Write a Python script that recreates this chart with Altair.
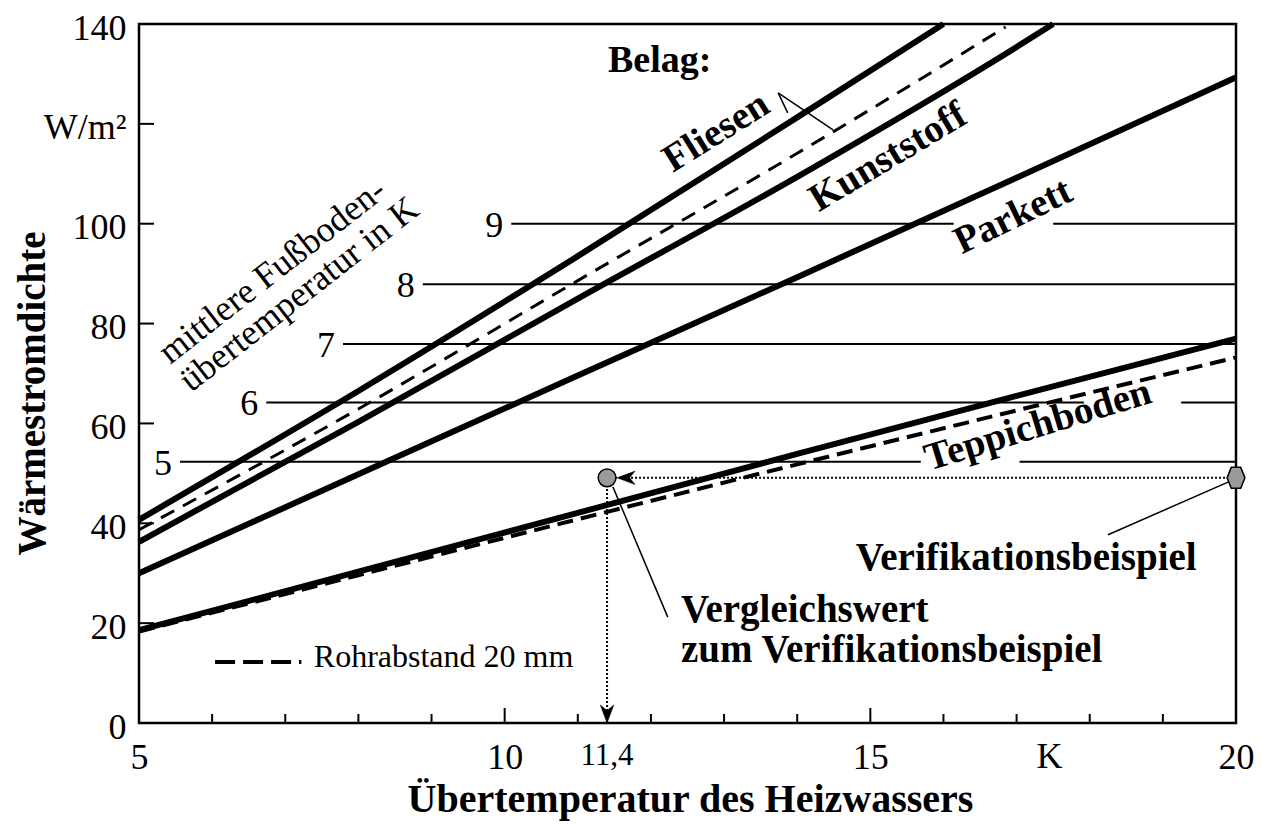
import altair as alt
import pandas as pd

# ---------------- data ----------------
# heat-flux curves (x = heating water over-temperature K, y = W/m²)
fliesen_x = [5, 8, 11, 14, 16]
fliesen_y = [40.7, 66.5, 93.5, 121.3, 140]
fliesen20_x = [5, 8, 11, 14, 16.85]
fliesen20_y = [38.7, 62.9, 88.6, 114.1, 139.4]
kunst_x = [5, 8, 11, 14, 17, 17.5]
kunst_y = [36.3, 60.3, 85.0, 109.4, 135.4, 140]
parkett_x = [5, 8, 11, 14, 17, 20]
parkett_y = [30.0, 49.8, 69.6, 89.3, 109.2, 129.3]
teppich_x = [5, 8, 11, 14, 17, 20]
teppich_y = [18.6, 30.3, 42.1, 53.9, 65.5, 77.0]
teppich20_x = [5, 8, 11, 14, 17, 20]
teppich20_y = [18.3, 29.6, 40.8, 51.8, 62.6, 73.2]

# mean floor over-temperature lines
floor_lbl = ["5", "6", "7", "8", "9"]
floor_q = [52.3, 64.2, 75.9, 87.9, 100.0]
floor_start = [5.56, 6.74, 7.79, 8.88, 10.09]
seg_q = [52.3, 52.3, 64.2, 64.2, 75.9, 87.9, 100.0, 100.0]
seg_x1 = [5.56, 17.04, 6.74, 19.25, 7.79, 8.88, 10.09, 17.5]
seg_x2 = [15.69, 20, 17.92, 20, 20, 20, 16.14, 20]

# verification example
verif_x = [11.4, 20]
verif_q = [49.1, 49.1]

# axis ticks / labels
y_ticks = [0, 20, 40, 60, 80, 100, 120, 140]
x_labels = [5, 10, 15, 20]
x_minor = [6, 7, 8, 9, 11, 12, 13, 14, 16, 17, 18, 19]
x_major = [10, 15]

# annotation texts
belag_lbl = ["Fliesen", "Kunststoff", "Parkett", "Teppichboden"]
belag_x = [12.89, 15.24, 16.95, 17.29]
belag_y = [118.4, 113.4, 101.5, 59.7]
belag_angle = [328, 329, 334, 343]

W, H = 1097, 699
FONT = "Liberation Serif"

rows = []
for name, style, xs, ys in [
    ("Fliesen", "solid", fliesen_x, fliesen_y),
    ("Kunststoff", "solid", kunst_x, kunst_y),
    ("Parkett", "solid", parkett_x, parkett_y),
    ("Teppichboden", "solid", teppich_x, teppich_y),
    ("Fliesen20", "dash_thin", fliesen20_x, fliesen20_y),
    ("Teppich20", "dash_thick", teppich20_x, teppich20_y),
]:
    for i, (x, y) in enumerate(zip(xs, ys)):
        rows.append(dict(curve=name, style=style, x=x, y=y, order=i))
df_curves = pd.DataFrame(rows)

xscale = alt.Scale(domain=[5, 20], nice=False, zero=False)
yscale = alt.Scale(domain=[0, 140], nice=False, zero=True)

X_AX = alt.Axis(
    values=x_labels, ticks=False, domain=False, grid=False,
    labelFont=FONT, labelFontSize=36, labelColor="black", labelPadding=17,
    title="Übertemperatur des Heizwassers", titleFont=FONT, titleFontSize=40,
    titleFontWeight="bold", titleColor="black", titleX=551, titleY=88,
    titleAnchor="start", titleAlign="center", titleBaseline="alphabetic",
    labelFlush=False,
)
Y_AX = alt.Axis(
    values=y_ticks, ticks=False, domain=False, grid=False,
    labelFont=FONT, labelFontSize=36, labelColor="black", labelPadding=13,
    labelOffset=4,
    labelExpr="datum.value == 120 ? 'W/m²' : datum.label",
    title="Wärmestromdichte", titleFont=FONT, titleFontSize=39,
    titleFontWeight="bold", titleColor="black", titleAngle=270,
    titleX=-95, titleY=369, titleAlign="center", titleBaseline="alphabetic",
    titleAnchor="start", labelFlush=False,
)


def X(field="x"):
    return alt.X(f"{field}:Q", scale=xscale, axis=X_AX, title="Übertemperatur des Heizwassers")


def Y(field="y"):
    return alt.Y(f"{field}:Q", scale=yscale, axis=Y_AX, title="Wärmestromdichte")


# floor temperature horizontal lines
df_seg = pd.DataFrame(dict(x=seg_x1, x2=seg_x2, y=seg_q))
floor_lines = alt.Chart(df_seg).mark_rule(color="black", strokeWidth=2).encode(
    x=X(), x2="x2:Q", y=Y(),
)
df_flbl = pd.DataFrame(dict(x=floor_start, y=floor_q, t=floor_lbl))
floor_text = alt.Chart(df_flbl).mark_text(
    font=FONT, fontSize=36, align="right", baseline="middle", dx=-8, dy=2, color="black"
).encode(x=X(), y=Y(), text="t:N")

# curves
solid = alt.Chart(df_curves[df_curves["style"] == "solid"]).mark_line(
    color="black", strokeWidth=6, interpolate="monotone"
).encode(x=X(), y=Y(), detail="curve:N", order="order:Q")
dash_thin = alt.Chart(df_curves[df_curves["style"] == "dash_thin"]).mark_line(
    color="black", strokeWidth=3, strokeDash=[15, 10], interpolate="monotone"
).encode(x=X(), y=Y(), detail="curve:N", order="order:Q")
dash_thick = alt.Chart(df_curves[df_curves["style"] == "dash_thick"]).mark_line(
    color="black", strokeWidth=4, strokeDash=[16, 8], interpolate="monotone"
).encode(x=X(), y=Y(), detail="curve:N", order="order:Q")

# inward tick marks
df_yt = pd.DataFrame(dict(y=[20, 40, 60, 80, 100, 120]))
y_tick_marks = alt.Chart(df_yt).mark_rule(color="black", strokeWidth=2).encode(
    y=Y(), x=alt.value(0), x2=alt.value(15)
)
df_xt = pd.DataFrame(dict(x=x_minor))
x_tick_minor = alt.Chart(df_xt).mark_rule(color="black", strokeWidth=2).encode(
    x=X(), y=alt.value(H), y2=alt.value(H - 9)
)
df_xm = pd.DataFrame(dict(x=x_major))
x_tick_major = alt.Chart(df_xm).mark_rule(color="black", strokeWidth=2).encode(
    x=X(), y=alt.value(H), y2=alt.value(H - 15)
)

# extra x labels
df_114 = pd.DataFrame(dict(x=[11.4], t=["11,4"]))
lbl_114 = alt.Chart(df_114).mark_text(
    font=FONT, fontSize=31, baseline="top", dy=18, color="black"
).encode(x=X(), y=alt.value(H), text="t:N")
df_k = pd.DataFrame(dict(x=[17.45], t=["K"]))
lbl_k = alt.Chart(df_k).mark_text(
    font=FONT, fontSize=36, baseline="top", dy=17, color="black"
).encode(x=X(), y=alt.value(H), text="t:N")

# verification dotted lines
df_hdot = pd.DataFrame(dict(x=[verif_x[0]], x2=[verif_x[1]], y=[verif_q[0]]))
hdot = alt.Chart(df_hdot).mark_rule(color="black", strokeWidth=2, strokeDash=[2, 2]).encode(
    x=X(), x2="x2:Q", y=Y()
)
df_vdot = pd.DataFrame(dict(x=[verif_x[0]], y=[0], y2=[verif_q[0]]))
vdot = alt.Chart(df_vdot).mark_rule(color="black", strokeWidth=2, strokeDash=[2, 2]).encode(
    x=X(), y=Y(), y2="y2:Q"
)
arrow_left = alt.Chart(pd.DataFrame(dict(x=[verif_x[0]], y=[verif_q[0]]))).mark_point(
    shape="M 0 0 L 2 -0.75 L 1.4 0 L 2 0.75 Z", size=324, filled=True,
    fill="black", stroke="black", strokeWidth=0.5, opacity=1, xOffset=10
).encode(x=X(), y=Y())
arrow_down = alt.Chart(pd.DataFrame(dict(x=[verif_x[0]], y=[0]))).mark_point(
    shape="M 0 0 L -0.75 -2 L 0 -1.4 L 0.75 -2 Z", size=324, filled=True,
    fill="black", stroke="black", strokeWidth=0.5, opacity=1
).encode(x=X(), y=Y())
circle = alt.Chart(pd.DataFrame(dict(x=[verif_x[0]], y=[verif_q[0]]))).mark_circle(
    size=314, fill="#9a9a9a", stroke="black", strokeWidth=1.5, opacity=1
).encode(x=X(), y=Y())
hexagon = alt.Chart(pd.DataFrame(dict(x=[verif_x[1]], y=[verif_q[1]]))).mark_point(
    shape="M -0.45 -1 L 0.45 -1 L 0.85 0 L 0.45 1 L -0.45 1 L -0.85 0 Z",
    size=441, filled=True, fill="#9a9a9a", stroke="black", strokeWidth=1.5, opacity=1
).encode(x=X(), y=Y())

# leader lines
lead_x1 = [13.74, 13.74, 11.48, 19.93]
lead_y1 = [126.2, 126.2, 47.3, 48.5]
lead_x2 = [13.87, 14.49, 12.23, 18.25]
lead_y2 = [122.2, 118.8, 21.2, 37.7]
df_lead = pd.DataFrame(dict(x=lead_x1, y=lead_y1, x2=lead_x2, y2=lead_y2))
leaders = alt.Chart(df_lead).mark_rule(color="black", strokeWidth=1.5).encode(
    x=X(), y=Y(), x2="x2:Q", y2="y2:Q"
)

# legend sample for 20 mm pipe spacing
df_leg = pd.DataFrame(dict(x=[6.04], x2=[7.22], y=[12.2]))
leg_line = alt.Chart(df_leg).mark_rule(color="black", strokeWidth=4, strokeDash=[20, 8]).encode(
    x=X(), x2="x2:Q", y=Y()
)
leg_text = alt.Chart(pd.DataFrame(dict(x=[7.39], y=[11.2], t=["Rohrabstand 20 mm"]))).mark_text(
    font=FONT, fontSize=32, align="left", baseline="alphabetic", color="black"
).encode(x=X(), y=Y(), text="t:N")

# covering labels (rotated)
df_belag = pd.DataFrame(dict(x=belag_x, y=belag_y, t=belag_lbl, a=belag_angle))
belag_text = alt.Chart(df_belag).mark_text(
    font=FONT, fontSize=39, fontWeight="bold", align="center", baseline="middle", color="black"
).encode(x=X(), y=Y(), text="t:N", angle=alt.Angle("a:Q", scale=None))

belag_title = alt.Chart(pd.DataFrame(dict(x=[12.12], y=[130.4], t=["Belag:"]))).mark_text(
    font=FONT, fontSize=38, fontWeight="bold", align="center", baseline="alphabetic", color="black"
).encode(x=X(), y=Y(), text="t:N")

df_mitt = pd.DataFrame(dict(x=[5.424, 5.711], y=[71.7, 66.1],
                            t=["mittlere Fußboden-", "übertemperatur in K"]))
mitt_text = alt.Chart(df_mitt).mark_text(
    font=FONT, fontSize=36, align="left", baseline="alphabetic", angle=322, color="black"
).encode(x=X(), y=Y(), text="t:N")

df_ann = pd.DataFrame(dict(
    x=[12.41, 12.41, 14.80], y=[20.2, 12.2, 30.6],
    t=["Vergleichswert", "zum Verifikationsbeispiel", "Verifikationsbeispiel"]))
ann_text = alt.Chart(df_ann).mark_text(
    font=FONT, fontSize=39, fontWeight="bold", align="left", baseline="alphabetic", color="black"
).encode(x=X(), y=Y(), text="t:N")

chart = alt.layer(
    floor_lines, floor_text, solid, dash_thin, dash_thick,
    y_tick_marks, x_tick_minor, x_tick_major, lbl_114, lbl_k,
    hdot, vdot, leaders, arrow_left, arrow_down, circle, hexagon,
    leg_line, leg_text, belag_text, belag_title, mitt_text, ann_text,
).properties(
    width=W, height=H,
    autosize=alt.AutoSizeParams(type="none"),
    padding={"left": 131, "top": 16, "right": 18, "bottom": 98},
    background="white",
).configure_view(stroke="black", strokeWidth=2.5)

chart.save("out.html", embed_options={"renderer": "svg", "actions": False})
